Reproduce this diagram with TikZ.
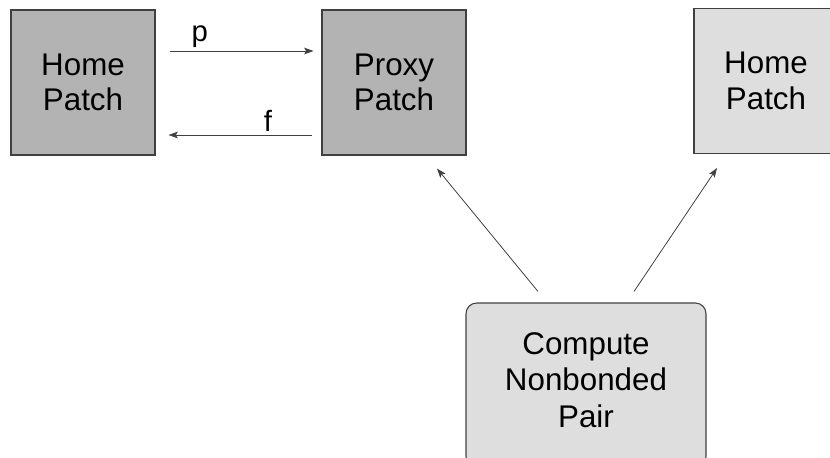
\documentclass[tikz,border=0pt]{standalone}
\usepackage{fontspec}
\setmainfont{Liberation Sans}
\usetikzlibrary{arrows.meta, positioning}
\definecolor{patchdark}{HTML}{B3B3B3}
\definecolor{patchlight}{HTML}{DEDEDE}
\definecolor{edgegray}{HTML}{404040}
\tikzset{
    patch/.style={draw=edgegray, line width=0.8pt, minimum width=108pt, minimum height=108.75pt,
        align=center, inner sep=0pt, font=\fontsize{23.5}{26.5}\selectfont},
    compute/.style={patch, rounded corners=8pt, minimum width=180pt, minimum height=123pt,
        font=\fontsize{23.5}{27.5}\selectfont},
    msg/.style={-{Stealth[length=7pt, width=5pt, inset=1.5pt]}, line width=0.6pt, draw=black!75},
    msglabel/.style={font=\fontsize{22}{24}\selectfont, inner sep=2pt}
}
\begin{document}
\begin{tikzpicture}[x=0.75pt, y=-0.75pt]
    \useasboundingbox (0, 0) rectangle (830, 457);
    \clip (0, 0) rectangle (830, 457);

    % Patches
    \node[patch, fill=patchdark] (home1) at (83, 82.5) {Home\\Patch};
    \node[patch, fill=patchdark] (proxy) at (394, 82.5) {Proxy\\Patch};
    \node[patch, fill=patchlight] (home2) at (766, 81) {Home\\Patch};

    % Compute object
    \node[compute, fill=patchlight] (pair) at (586, 385) {};
    \node[align=center, font=\fontsize{23.5}{27.5}\selectfont] (pairtext) at (586, 380) {Compute\\Nonbonded\\Pair};

    % Messages between home and proxy
    \draw[msg] ([shift={(14, -31.5)}]home1.east) -- ([shift={(-8, -31.5)}]proxy.west)
        node[msglabel, pos=0.21, above] (plabel) {p};
    \draw[msg] ([shift={(-9, 52.5)}]proxy.west) -- ([shift={(13, 52.5)}]home1.east)
        node[msglabel, pos=0.31, above] (flabel) {f};

    % Compute to patches
    \draw[msg] ([shift={(-48, -11)}]pair.north) -- ([shift={(43, 13)}]proxy.south);
    \draw[msg] ([shift={(48, -11)}]pair.north) -- ([shift={(-49, 14)}]home2.south);
\end{tikzpicture}
\end{document}
